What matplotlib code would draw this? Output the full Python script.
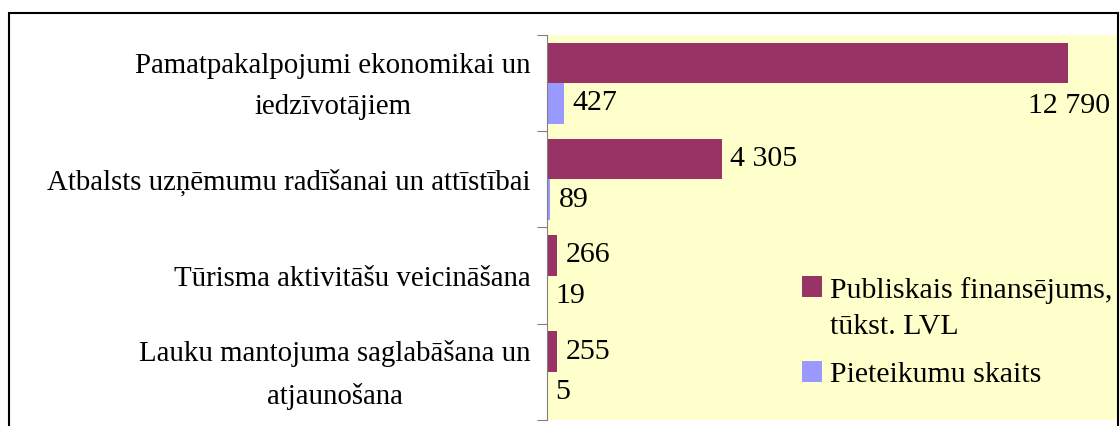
import matplotlib
matplotlib.use("Agg")
import matplotlib.pyplot as plt
from matplotlib.patches import Rectangle
import numpy as np

categories = [
    "Pamatpakalpojumi ekonomikai un\niedzīvotājiem",
    "Atbalsts uzņēmumu radīšanai un attīstībai",
    "Tūrisma aktivitāšu veicināšana",
    "Lauku mantojuma saglabāšana un\natjaunošana",
]
funding = [12790, 4305, 266, 255]
applications = [427, 89, 19, 5]
series_names = ["Publiskais finansējums,\ntūkst. LVL", "Pieteikumu skaits"]

plt.rcParams["font.family"] = ["Liberation Serif", "DejaVu Serif"]
FS = 21.5      # value labels, legend
FS_CAT = 20.8  # category labels

fig = plt.figure(figsize=(11.2, 4.26), dpi=100)
ax = fig.add_axes([0.488, 0.014, 0.5093, 0.904])
ax.set_facecolor("#FFFFCC")

y = np.arange(len(categories))
h = 0.42
b1 = ax.barh(y - h / 2, funding, height=h, color="#993366", label=series_names[0])
b2 = ax.barh(y + h / 2, applications, height=h, color="#9999FF", label=series_names[1])

ax.set_xlim(0, 14000)
ax.set_ylim(len(categories) - 0.5, -0.5)


def fmt(v):
    return f"{v:,}".replace(",", " ")


xmax = ax.get_xlim()[1]
lab1 = [fmt(v) if v < xmax * 0.8 else "" for v in funding]
ax.bar_label(b1, labels=lab1, padding=6, fontsize=FS)
ax.bar_label(b2, labels=[fmt(v) for v in applications], padding=6, fontsize=FS)
# a label that does not fit after its bar goes to the right edge, one row lower
for i, v in enumerate(funding):
    if v >= xmax * 0.8:
        ax.annotate(fmt(v), xy=(xmax, y[i] + h / 2), xytext=(-5, -2),
                    textcoords="offset points", ha="right", va="center", fontsize=FS)

# ticks between categories, category names as text
ax.set_yticks(np.arange(len(categories) + 1) - 0.5)
ax.set_yticklabels([])
ax.tick_params(axis="y", length=7, color="#808080", direction="out")
for yi, name in zip(y, categories):
    ax.annotate(name, xy=(0, yi), xycoords=ax.get_yaxis_transform(),
                xytext=(-11.5, -2.5), textcoords="offset points",
                ha="right", va="center", multialignment="center",
                linespacing=1.75, fontsize=FS_CAT)
ax.set_xticks([])
for s in ["top", "right", "bottom"]:
    ax.spines[s].set_visible(False)
ax.spines["left"].set_color("#808080")

leg = ax.legend(loc="upper left", bbox_to_anchor=(0.447, 0.372), frameon=False,
                fontsize=FS, handlelength=0.7, handleheight=0.7, handletextpad=0.25,
                labelspacing=0.7, borderpad=0, borderaxespad=0)
for t in leg.get_texts():
    t.set_linespacing(1.5)
# square next to the first line of a wrapped entry
hd = leg.legend_handles[0]
hd.set_y(hd.get_y() + 15.5)

fig.add_artist(Rectangle((9 / 1120, -0.1), 1109 / 1120, 1.1 - 13 / 426,
                         transform=fig.transFigure, fill=False, edgecolor="black",
                         linewidth=1.5, clip_on=False, zorder=10))

fig.savefig("out.png", dpi=100)
